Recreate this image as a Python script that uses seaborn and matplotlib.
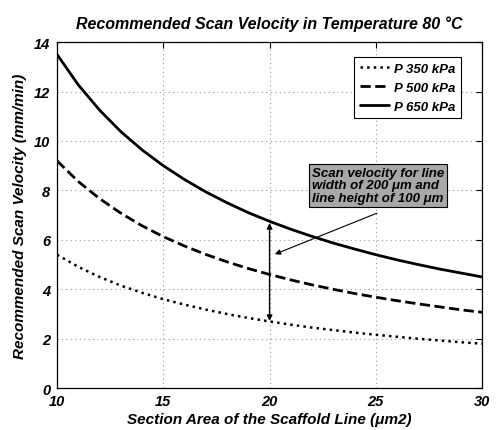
import matplotlib
matplotlib.use("Agg")
import matplotlib.pyplot as plt
import seaborn as sns
import pandas as pd

area = [10, 11, 12, 13, 14, 15, 16, 17, 18, 19, 20, 21, 22, 23, 24, 25, 26, 27, 28, 29, 30]
v350 = [5.4, 4.91, 4.5, 4.15, 3.86, 3.6, 3.38, 3.18, 3.0, 2.84, 2.7, 2.57, 2.45, 2.35, 2.25, 2.16, 2.08, 2.0, 1.93, 1.86, 1.8]
v500 = [9.2, 8.36, 7.67, 7.08, 6.57, 6.13, 5.75, 5.41, 5.11, 4.84, 4.6, 4.38, 4.18, 4.0, 3.83, 3.68, 3.54, 3.41, 3.29, 3.17, 3.07]
v650 = [13.5, 12.27, 11.25, 10.38, 9.64, 9.0, 8.44, 7.94, 7.5, 7.1, 6.75, 6.43, 6.14, 5.87, 5.63, 5.4, 5.19, 5.0, 4.82, 4.66, 4.5]
series_names = ["P 350 kPa", "P 500 kPa", "P 650 kPa"]
xticks = [10, 15, 20, 25, 30]
yticks = [0, 2, 4, 6, 8, 10, 12, 14]

sns.set_theme(style="white")
plt.rcParams['font.family'] = ['Liberation Sans', 'DejaVu Sans']
plt.rcParams.update({"text.color": "black", "axes.labelcolor": "black",
                     "xtick.color": "black", "ytick.color": "black"})

fig = plt.figure(figsize=(4.96, 4.31), dpi=100)
ax = fig.add_axes([0.115, 0.097, 0.857, 0.803])

styles = [(":", 1.8), ("--", 2.0), ("-", 2.0)]
for name, vals, (ls, lw) in zip(series_names, [v350, v500, v650], styles):
    df = pd.DataFrame({"x": area, "y": vals})
    sns.lineplot(data=df, x="x", y="y", ax=ax, color="black", linestyle=ls,
                 linewidth=lw, label=name)

ax.set_xlim(10, 30)
ax.set_ylim(0, 14)
ax.set_xticks(xticks)
ax.set_yticks(yticks)
ax.set_xticklabels([str(t) for t in xticks], fontsize=10.5, fontweight="bold", fontstyle="italic")
ax.set_yticklabels([str(t) for t in yticks], fontsize=10.5, fontweight="bold", fontstyle="italic")
ax.tick_params(axis="x", direction="in", top=True, length=4, width=0.8, colors="black", pad=4)
ax.tick_params(axis="y", direction="in", right=True, length=4, width=0.8, colors="black", pad=5)
ax.grid(True, linestyle=(0, (1, 3)), color="#999999", linewidth=0.8)
for s in ax.spines.values():
    s.set_color("black")
    s.set_linewidth(0.9)

ax.set_title("Recommended Scan Velocity in Temperature 80 \u00b0C", fontsize=11.5,
             fontweight="bold", fontstyle="italic", pad=10, color="black")
ax.set_xlabel("Section Area of the Scaffold Line (\u03bcm2)", fontsize=11,
              fontweight="bold", fontstyle="italic", labelpad=3)
ax.set_ylabel("Recommended Scan Velocity (mm/min)", fontsize=11,
              fontweight="bold", fontstyle="italic", labelpad=5)

leg = ax.legend(loc="upper right", bbox_to_anchor=(0.965, 0.975), fancybox=False,
                edgecolor="black", framealpha=1, handlelength=2.2, handletextpad=0.4,
                borderpad=0.4, labelspacing=0.5,
                prop={"weight": "bold", "style": "italic", "size": 9.5})
leg.get_frame().set_linewidth(0.8)

# vertical double arrow at x=20
ax.annotate("", xy=(20, 6.68), xytext=(20, 2.72),
            arrowprops=dict(arrowstyle="<|-|>", color="black", lw=1.0,
                            mutation_scale=8, shrinkA=0, shrinkB=0))
# pointer arrow from text box
ax.annotate("", xy=(20.25, 5.42), xytext=(25.05, 7.08),
            arrowprops=dict(arrowstyle="-|>", color="black", lw=0.8,
                            mutation_scale=8, shrinkA=0, shrinkB=0))
ax.text(25.1, 8.2, "Scan velocity for line\nwidth of 200 \u03bcm and\nline height of 100 \u03bcm",
        ha="center", va="center", multialignment="left", fontsize=9.5, fontweight="bold",
        fontstyle="italic", color="black", linespacing=1.1,
        bbox=dict(boxstyle="square,pad=0.2", facecolor="#a8a8a8", edgecolor="black", linewidth=0.8))

fig.savefig("out.png", dpi=100)
